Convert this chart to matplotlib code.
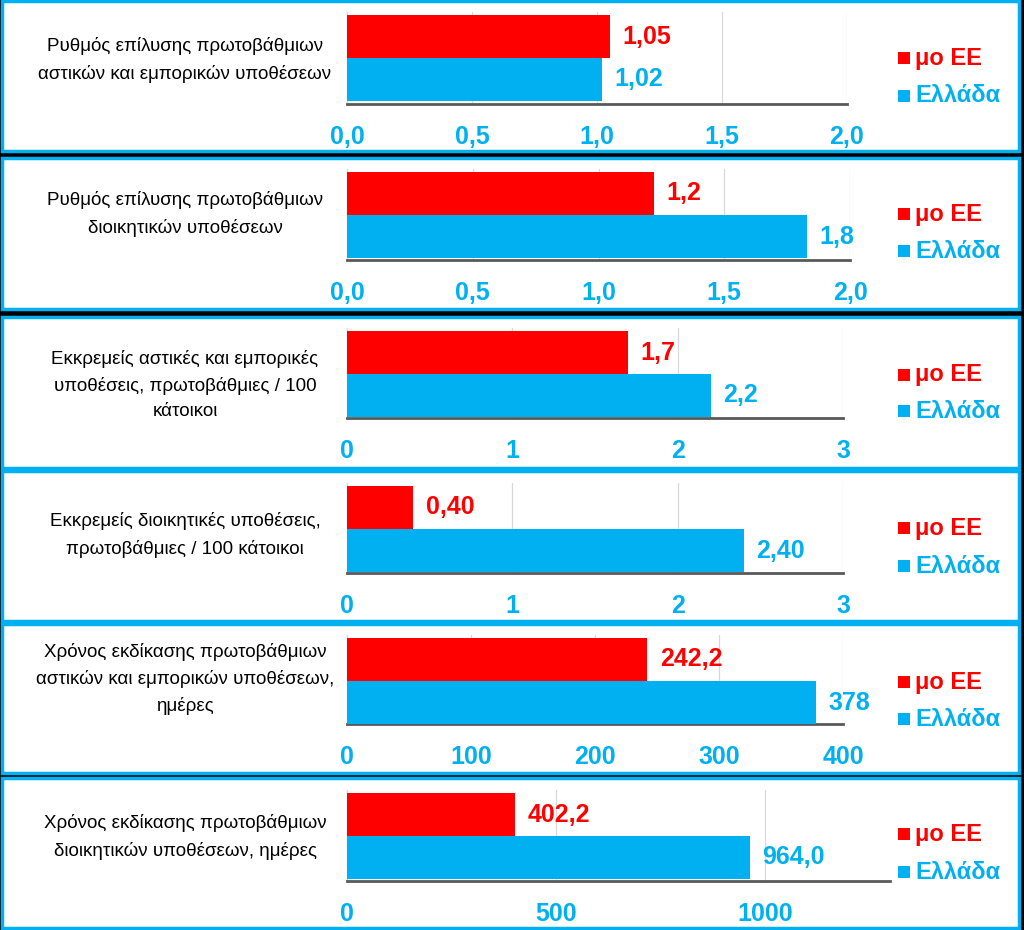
import matplotlib
matplotlib.use("Agg")
import matplotlib.pyplot as plt
from matplotlib.patches import Rectangle

# ---------------- data ----------------
categories = [
    "Ρυθμός επίλυσης πρωτοβάθμιων\nαστικών και εμπορικών υποθέσεων",
    "Ρυθμός επίλυσης πρωτοβάθμιων\nδιοικητικών υποθέσεων",
    "Εκκρεμείς αστικές και εμπορικές\nυποθέσεις, πρωτοβάθμιες / 100\nκάτοικοι",
    "Εκκρεμείς διοικητικές υποθέσεις,\nπρωτοβάθμιες / 100 κάτοικοι",
    "Χρόνος εκδίκασης πρωτοβάθμιων\nαστικών και εμπορικών υποθέσεων,\nημέρες",
    "Χρόνος εκδίκασης πρωτοβάθμιων\nδιοικητικών υποθέσεων, ημέρες",
]
series_names = ["μο ΕΕ", "Ελλάδα"]
eu_values = [1.05, 1.22, 1.7, 0.40, 242.2, 402.2]
gr_values = [1.02, 1.83, 2.2, 2.40, 378.0, 964.0]
label_decimals = [(2, 2), (1, 1), (1, 1), (2, 2), (1, 0), (1, 1)]
x_max = [2.0, 2.0, 3, 3, 400, 1300]
x_ticks = [
    [0.0, 0.5, 1.0, 1.5, 2.0],
    [0.0, 0.5, 1.0, 1.5, 2.0],
    [0, 1, 2, 3],
    [0, 1, 2, 3],
    [0, 100, 200, 300, 400],
    [0, 500, 1000],
]
tick_decimals = [1, 1, 0, 0, 0, 0]

# ---------------- style ----------------
RED = "#FF0000"
BLUE = "#00B0F0"
W, H = 1024, 930
FONT = ["Liberation Sans", "DejaVu Sans"]

# panel layout in pixels (top, bottom)
panels = [(1, 151), (158, 309), (317, 468), (471, 621), (624, 773), (778, 928)]
bar_top = [15, 172, 331, 486, 638, 793]
axis_y = [104, 260, 418, 573, 724, 881]
ax_right = [847, 850, 843, 843, 843, 890]
cat_y = [60, 214, 385, 535, 679, 837]
leg_y = [(58, 96), (214, 251), (375, 411), (528, 566), (682, 719), (834, 872)]
AX_LEFT = 347
BAR_PX = 43

fig = plt.figure(figsize=(W / 100, H / 100), dpi=100)
fig.patch.set_facecolor("black")

def fx(px):
    return px / W

def fy(py):
    return 1 - py / H

for i in range(6):
    top, bot = panels[i]
    fig.patches.append(Rectangle((fx(1.5), fy(bot)), fx(1017), (bot - top) / H,
                                 transform=fig.transFigure, facecolor="white",
                                 edgecolor=BLUE, linewidth=2.5, zorder=-5))

    t = bar_top[i] - 3
    b = axis_y[i]
    ax = fig.add_axes([fx(AX_LEFT), fy(b), fx(ax_right[i] - AX_LEFT), (b - t) / H])
    ax.set_zorder(2)
    ax.set_facecolor("none")
    vals = [gr_values[i], eu_values[i]]
    cols = [BLUE, RED]
    ax.barh([0, 1], vals, height=1.0, color=cols, zorder=3)
    unit = BAR_PX
    bar_bottom = bar_top[i] + 2 * BAR_PX
    ax.set_ylim(-0.5 - (b - bar_bottom) / unit, 1.5 + 3 / unit)
    ax.set_xlim(0, x_max[i])
    ax.set_xticks(x_ticks[i])
    d = tick_decimals[i]
    ax.set_xticklabels([f"{v:.{d}f}".replace(".", ",") for v in x_ticks[i]],
                       fontfamily=FONT, fontsize=18, fontweight="bold", color=BLUE)
    ax.tick_params(axis="x", length=0, pad=15)
    ax.set_yticks([])
    ax.grid(axis="x", color="#D9D9D9", linewidth=0.9, zorder=0)
    ax.set_axisbelow(True)
    for s in ["top", "right"]:
        ax.spines[s].set_visible(False)
    ax.spines["left"].set_color("#D9D9D9")
    ax.spines["left"].set_linewidth(0.9)
    ax.spines["bottom"].set_color("#595959")
    ax.spines["bottom"].set_linewidth(2.0)

    dec_eu, dec_gr = label_decimals[i]
    for yy, v, c, dd in [(1, eu_values[i], RED, dec_eu), (0, gr_values[i], BLUE, dec_gr)]:
        ax.annotate(f"{v:.{dd}f}".replace(".", ","), (v, yy), xytext=(9, 0),
                    textcoords="offset points", va="center", ha="left",
                    fontfamily=FONT, fontsize=18, fontweight="bold", color=c,
                    annotation_clip=False)

    fig.text(fx(185), fy(cat_y[i]), categories[i], ha="center", va="center",
             fontfamily=FONT, fontsize=13.5, color="black", linespacing=1.65)

    for (yy, name, c) in zip(leg_y[i], series_names, [RED, BLUE]):
        fig.patches.append(Rectangle((fx(898), fy(yy + 6)), fx(12), 12 / H,
                                     transform=fig.transFigure, facecolor=c,
                                     edgecolor="none"))
        fig.text(fx(915), fy(yy), name, ha="left", va="center",
                 fontfamily=FONT, fontsize=17, fontweight="bold", color=c)

fig.savefig("out.png", dpi=100, facecolor="black")
